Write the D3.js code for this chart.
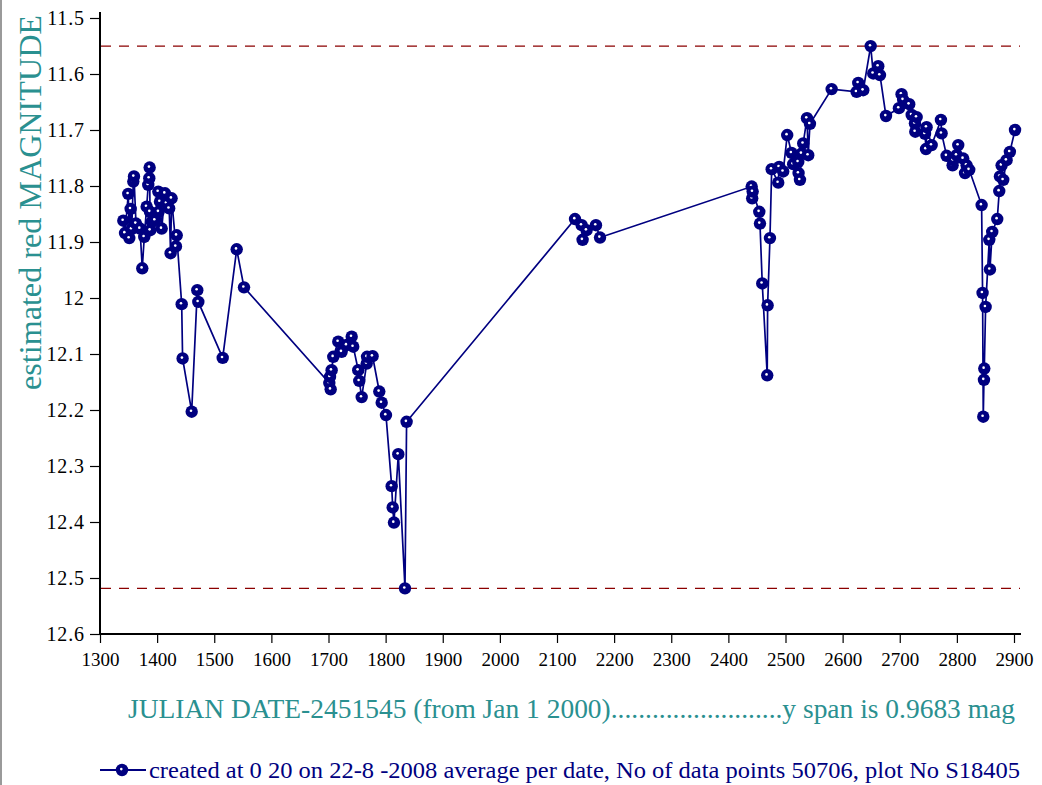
<!DOCTYPE html>
<html>
<head>
<meta charset="utf-8">
<script src="https://cdn.jsdelivr.net/npm/d3@7"></script>
<style>
  body { margin: 0; background: #fff; }
  svg { display: block; }
  text { font-family: "Liberation Serif", "Times New Roman", serif; }
</style>
</head>
<body>
<div class="container"></div>
<script>
// julian date - 2451545, one point per date (averaged)
const jd = [
  1340.8, 1343.8, 1349.5, 1351.3, 1353.7, 1355.5, 1358.3, 1359.5, 1363.0, 1370.0,
  1374.0, 1377.5, 1381.7, 1384.5, 1386.3, 1386.9, 1387.5, 1388.0, 1390.5, 1396.3,
  1402.1, 1402.6, 1405.0, 1408.0, 1413.8, 1416.6, 1421.1, 1423.6, 1425.3, 1433.0,
  1434.3, 1443.0, 1444.6, 1460.5, 1470.3, 1472.1, 1514.8, 1539.3, 1552.1,
  1701.4, 1702.6, 1703.8, 1705.5, 1708.4, 1717.1, 1723.0, 1731.8, 1740.6, 1743.3,
  1752.1, 1753.9, 1758.1, 1766.9, 1767.5, 1777.2, 1788.9, 1793.1, 1800.6, 1810.6,
  1812.4, 1814.6, 1822.2, 1833.9, 1836.7,
  2131.5, 2143.2, 2144.8, 2151.8, 2168.2, 2175.3,
  2440.8, 2441.7, 2442.5, 2454.1, 2455.3, 2459.3, 2468.0, 2468.7, 2472.8, 2475.8,
  2487.3, 2489.0, 2496.0, 2503.0, 2510.6, 2513.4, 2522.3, 2522.9, 2525.3, 2528.2,
  2531.0, 2537.6, 2539.8, 2542.8,
  2580.8, 2624.5, 2627.4, 2636.1, 2649.1, 2653.6, 2662.4, 2665.4, 2675.9,
  2698.6, 2703.2, 2706.0, 2716.6, 2720.9, 2726.6, 2727.2, 2729.6, 2744.2, 2745.9,
  2747.0, 2755.9, 2772.1, 2773.3, 2782.0, 2792.5, 2793.6, 2799.6, 2802.4, 2811.1,
  2814.2, 2817.1, 2821.6,
  2843.3, 2845.0, 2846.2, 2847.4, 2848.0, 2850.3, 2856.7, 2857.9, 2861.9, 2870.7,
  2874.2, 2875.4, 2878.3, 2881.2, 2887.0, 2892.8, 2901.8
];
const mag = [
  11.862, 11.884, 11.814, 11.893, 11.841, 11.877, 11.792, 11.783, 11.867, 11.876,
  11.947, 11.891, 11.837, 11.798, 11.786, 11.767, 11.846, 11.879, 11.864, 11.861,
  11.810, 11.846, 11.828, 11.876, 11.813, 11.831, 11.840, 11.920, 11.822, 11.908,
  11.888, 12.011, 12.108, 12.203, 11.986, 12.007, 12.107, 11.913, 11.981,
  12.152, 12.141, 12.163, 12.129, 12.105, 12.078, 12.096, 12.084, 12.069, 12.087,
  12.129, 12.148, 12.177, 12.117, 12.105, 12.104, 12.167, 12.187, 12.209, 12.336,
  12.374, 12.401, 12.279, 12.5185, 12.221,
  11.859, 11.870, 11.896, 11.879, 11.870, 11.892,
  11.801, 11.822, 11.810, 11.846, 11.867, 11.974, 12.138, 12.013, 11.893, 11.770,
  11.794, 11.766, 11.774, 11.709, 11.741, 11.761, 11.757, 11.777, 11.789, 11.742,
  11.724, 11.679, 11.745, 11.689,
  11.627, 11.632, 11.616, 11.629, 11.5502, 11.599, 11.586, 11.602, 11.675,
  11.661, 11.636, 11.646, 11.654, 11.673, 11.688, 11.703, 11.677, 11.707, 11.734,
  11.695, 11.727, 11.682, 11.706, 11.746, 11.763, 11.754, 11.745, 11.727, 11.751,
  11.777, 11.763, 11.771,
  11.834, 11.991, 12.212, 12.146, 12.126, 12.016, 11.896, 11.949, 11.882, 11.859,
  11.809, 11.783, 11.763, 11.789, 11.754, 11.739, 11.700
];

const xTicks = [1300, 1400, 1500, 1600, 1700, 1800, 1900, 2000, 2100, 2200,
                2300, 2400, 2500, 2600, 2700, 2800, 2900];
const yTicks = [11.5, 11.6, 11.7, 11.8, 11.9, 12, 12.1, 12.2, 12.3, 12.4, 12.5, 12.6];
const yTickLabels = ["11.5", "11.6", "11.7", "11.8", "11.9", "12", "12.1", "12.2",
                     "12.3", "12.4", "12.5", "12.6"];

const spanLines = [d3.min(mag), d3.max(mag)];
const xTitle = "JULIAN DATE-2451545 (from Jan 1 2000).........................y span is 0.9683 mag";
const yTitle = "estimated red MAGNITUDE";
const legendText = "created at 0 20 on 22-8 -2008 average per date, No of data points 50706,  plot No S18405";

const width = 1042;
const height = 785;
const navy = "#000080";
const teal = "#2a9090";

const x = d3.scaleLinear().domain([1300, 2900]).range([100, 1014]);
const y = d3.scaleLinear().domain([11.5, 12.6]).range([18, 634]);

const svg = d3.select(".container")
  .append("svg")
  .attr("width", width)
  .attr("height", height);

// left frame edge
svg.append("line")
  .attr("x1", 1).attr("x2", 1).attr("y1", 0).attr("y2", height)
  .attr("stroke", "#9a9a9a").attr("stroke-width", 2);

// y axis
const yAxis = d3.axisLeft(y)
  .tickValues(yTicks)
  .tickFormat((d, i) => yTickLabels[i])
  .tickSize(10)
  .tickSizeOuter(0);

const gy = svg.append("g")
  .attr("transform", "translate(100,0)")
  .call(yAxis);
gy.select(".domain").remove();
gy.selectAll(".tick line").attr("stroke", "#000").attr("stroke-width", 1.2);
gy.selectAll(".tick text")
  .attr("x", -15)
  .attr("font-size", 20)
  .attr("letter-spacing", 0.9)
  .attr("font-family", "Liberation Serif")
  .attr("fill", "#000");
svg.append("line")
  .attr("x1", 100).attr("x2", 100).attr("y1", 12).attr("y2", 635)
  .attr("stroke", "#000").attr("stroke-width", 2);

// x axis
const xAxis = d3.axisBottom(x)
  .tickValues(xTicks)
  .tickFormat(d3.format("d"))
  .tickSize(9)
  .tickSizeOuter(0);

const gx = svg.append("g")
  .attr("transform", "translate(0,634)")
  .call(xAxis);
gx.select(".domain").remove();
gx.selectAll(".tick line").attr("stroke", "#000").attr("stroke-width", 1.2);
gx.selectAll(".tick text")
  .attr("y", 19)
  .attr("font-size", 19)
  .attr("font-family", "Liberation Serif")
  .attr("fill", "#000");
svg.append("line")
  .attr("x1", 99).attr("x2", 1021).attr("y1", 634).attr("y2", 634)
  .attr("stroke", "#000").attr("stroke-width", 2);

// span lines (max / min)
svg.selectAll(".span")
  .data(spanLines)
  .enter()
  .append("line")
  .attr("class", "span")
  .attr("x1", 101).attr("x2", 1020)
  .attr("y1", d => y(d)).attr("y2", d => y(d))
  .attr("stroke", "#8b0000")
  .attr("stroke-width", 1.4)
  .attr("stroke-dasharray", "10,8");

// the light curve
const pts = jd.map((d, i) => [d, mag[i]]);

svg.append("path")
  .datum(pts)
  .attr("fill", "none")
  .attr("stroke", navy)
  .attr("stroke-width", 1.7)
  .attr("d", d3.line().x(d => x(d[0])).y(d => y(d[1])));

function marker(sel) {
  sel.append("circle").attr("r", 6.2).attr("fill", navy);
  sel.append("circle").attr("r", 1.3).attr("cx", -0.7).attr("cy", -0.9).attr("fill", "#fff");
}

svg.selectAll(".pt")
  .data(pts)
  .enter()
  .append("g")
  .attr("class", "pt")
  .attr("transform", d => `translate(${x(d[0])},${y(d[1])})`)
  .call(marker);

// titles
svg.append("text")
  .attr("transform", "translate(41,390) rotate(-90)")
  .attr("font-size", 31)
  .attr("textLength", 375)
  .attr("lengthAdjust", "spacingAndGlyphs")
  .attr("fill", teal)
  .text(yTitle);

svg.append("text")
  .attr("x", 128).attr("y", 718)
  .attr("font-size", 27)
  .attr("textLength", 887)
  .attr("lengthAdjust", "spacingAndGlyphs")
  .attr("fill", teal)
  .text(xTitle);

// legend
svg.append("line")
  .attr("x1", 100).attr("x2", 146).attr("y1", 770).attr("y2", 770)
  .attr("stroke", navy).attr("stroke-width", 2);
svg.append("g")
  .attr("transform", "translate(122,770)")
  .call(marker);
svg.append("text")
  .attr("x", 149).attr("y", 778)
  .attr("font-size", 24)
  .attr("textLength", 871)
  .attr("lengthAdjust", "spacingAndGlyphs")
  .attr("fill", navy)
  .text(legendText);
</script>
</body>
</html>
